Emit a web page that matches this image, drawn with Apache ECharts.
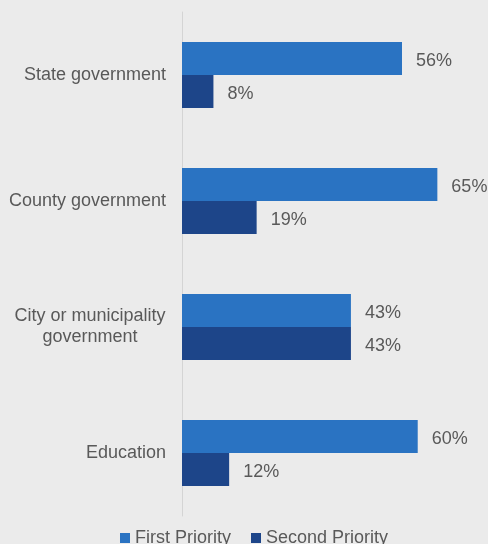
<!DOCTYPE html>
<html>
<head>
<meta charset="utf-8">
<style>
  html, body { margin: 0; padding: 0; background: #ebebeb; }
  #chart { width: 488px; height: 544px; }
</style>
<script src="https://cdn.jsdelivr.net/npm/echarts@6/dist/echarts.min.js"></script>
</head>
<body>
<div id="chart"></div>
<script>
const categories = ['State government', 'County government', 'City or municipality\ngovernment', 'Education']
const seriesNames = ['First Priority', 'Second Priority']
const firstPriority = [56, 65, 43, 60]
const secondPriority = [8, 19, 43, 12]
const colors = ['#2a73c2', '#1d4589']

const chart = echarts.init(document.getElementById('chart'))

const labelStyle = {
  show: true,
  position: 'right',
  distance: 14,
  offset: [0, 3],
  color: '#595959',
  fontSize: 18,
  fontFamily: 'Liberation Sans',
  formatter: p => p.value + '%',
}

chart.setOption({
  backgroundColor: '#ebebeb',
  textStyle: { fontFamily: 'Liberation Sans' },
  legend: {
    data: seriesNames,
    bottom: -8,
    left: 115,
    itemWidth: 10,
    itemHeight: 10,
    itemGap: 20,
    icon: 'rect',
    textStyle: { color: '#595959', fontSize: 18, fontFamily: 'Liberation Sans' },
  },
  grid: {
    top: 12,
    left: 182,
    right: 31,
    height: 504,
    containLabel: false,
  },
  xAxis: {
    type: 'value',
    min: 0,
    max: 70,
    show: false,
    splitLine: { show: false },
  },
  yAxis: {
    type: 'category',
    inverse: true,
    data: categories,
    axisTick: { show: false },
    axisLine: { show: true, lineStyle: { color: '#d4d4d4', width: 1 } },
    axisLabel: {
      color: '#595959',
      fontSize: 18,
      margin: 16,
      lineHeight: 21,
      formatter: v => {
        if (v.indexOf('\n') >= 0) {
          return v.split('\n').map(s => '{c|' + s + '}').join('\n')
        }
        return v
      },
      rich: {
        c: { width: 152, align: 'center', fontSize: 18, color: '#595959', lineHeight: 21 },
      },
    },
  },
  series: [
    {
      name: seriesNames[0],
      type: 'bar',
      data: firstPriority,
      barGap: '0%',
      barCategoryGap: '47.6%',
      itemStyle: { color: colors[0] },
      label: labelStyle,
    },
    {
      name: seriesNames[1],
      type: 'bar',
      data: secondPriority,
      barGap: '0%',
      barCategoryGap: '47.6%',
      itemStyle: { color: colors[1] },
      label: labelStyle,
    },
  ],
})
</script>
</body>
</html>
